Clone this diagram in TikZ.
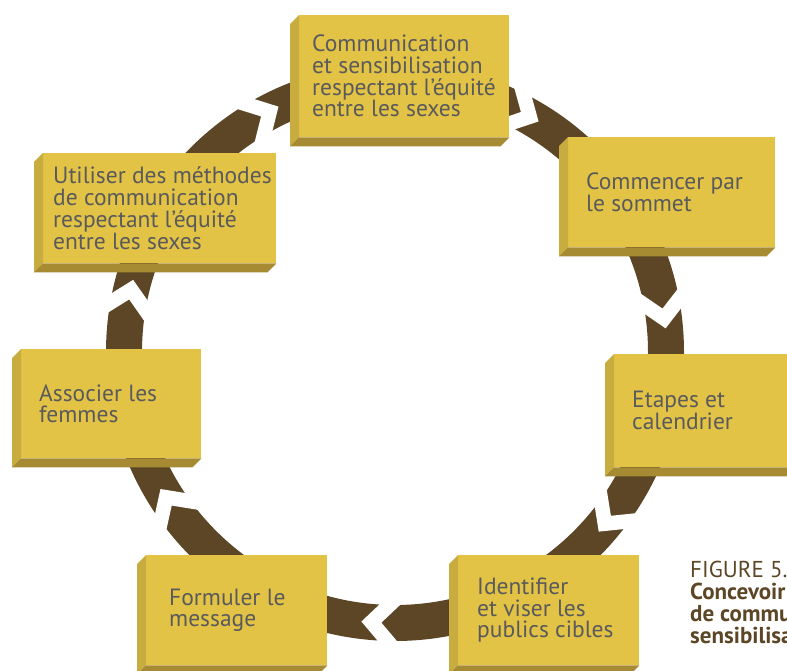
\documentclass[tikz,border=0pt]{standalone}
\usepackage{fontspec}
\setmainfont{PT Sans}
\usetikzlibrary{positioning,calc}

\definecolor{brun}{HTML}{5C4626}
\definecolor{jaune}{HTML}{E2C346}
\definecolor{jaunecote}{HTML}{C9AC40}
\definecolor{jaunebas}{HTML}{A78B32}
\definecolor{gris}{HTML}{5A5A5C}

\tikzset{
  anneau/.style={draw=brun, line width=36pt},
  coupure/.style={fill=white},
  pave/.style={fill=jaune, anchor=north west, inner sep=0pt},
  etiquette/.style={inner sep=0pt, align=left, text=gris, font=\fontsize{23.5}{21.7}\selectfont},
  legende/.style={inner sep=0pt, align=left, text=brun, font=\fontsize{23}{22}\selectfont},
  cote/.style={fill=jaunecote},
  dessous/.style={fill=jaunebas},
}

\begin{document}
\begin{tikzpicture}[x=1pt,y=-1pt]
    \useasboundingbox (0,0) rectangle (787,671);
    \coordinate (c) at (395,352);

    % l'anneau et ses coupures
    \draw[anneau] (c) circle[radius=271];
    \foreach \a in {119.3,62,8.9,-37.5,-93.2,214.2,168.5}{
      \fill[coupure,shift={(c)},rotate=\a] (247,-24.2) -- (271,-1.5) -- (295,-24.2)
        -- (295,-4.2) -- (271,18.5) -- (247,-4.2) -- cycle;
    }

    % les paves
    \node[pave, minimum width=210pt, minimum height=122pt] (comm) at (299,15) {};
    \node[pave, minimum width=207pt, minimum height=110pt] (sommet) at (568,137) {};
    \node[pave, minimum width=200pt, minimum height=113pt] (etapes) at (614,354) {};
    \node[pave, minimum width=181pt, minimum height=110pt] (publics) at (458,555) {};
    \node[pave, minimum width=181pt, minimum height=110pt] (message) at (146,555) {};
    \node[pave, minimum width=180pt, minimum height=109pt] (femmes) at (21,349) {};
    \node[pave, minimum width=233pt, minimum height=110pt] (methodes) at (43,153) {};

    \foreach \n in {comm,sommet,etapes,publics,message,femmes,methodes}{
      \fill[cote] (\n.north west) -- (\n.south west) -- ++(-9,9) -- ($(\n.north west)+(-9,9)$) -- cycle;
      \fill[dessous] (\n.south west) -- (\n.south east) -- ++(-9,9) -- ($(\n.south west)+(-9,9)$) -- cycle;
    }

    % les textes
    \node[etiquette, right=13pt of comm.west] (comm-t) {Communication\\et sensibilisation\\respectant l’équité\\entre les sexes};
    \node[etiquette, right=18pt of sommet.west] (sommet-t) {Commencer par\\le sommet};
    \node[etiquette, right=18pt of etapes.west] (etapes-t) {Etapes et\\calendrier};
    \node[etiquette, right=19pt of publics.west] (publics-t) {Identifier\\et viser les\\publics cibles};
    \node[etiquette, right=23pt of message.west] (message-t) {Formuler le\\message};
    \node[etiquette, right=18pt of femmes.west] (femmes-t) {Associer les\\femmes};
    \node[etiquette, right=10pt of methodes.west] (methodes-t) {Utiliser des méthodes\\de communication\\respectant l’équité\\entre les sexes};

    \node[legende, anchor=north west] (fig) at (690,561) {FIGURE 5.\\\textbf{Concevoir}\\\textbf{de communication}\\\textbf{sensibilisation}};
\end{tikzpicture}
\end{document}
